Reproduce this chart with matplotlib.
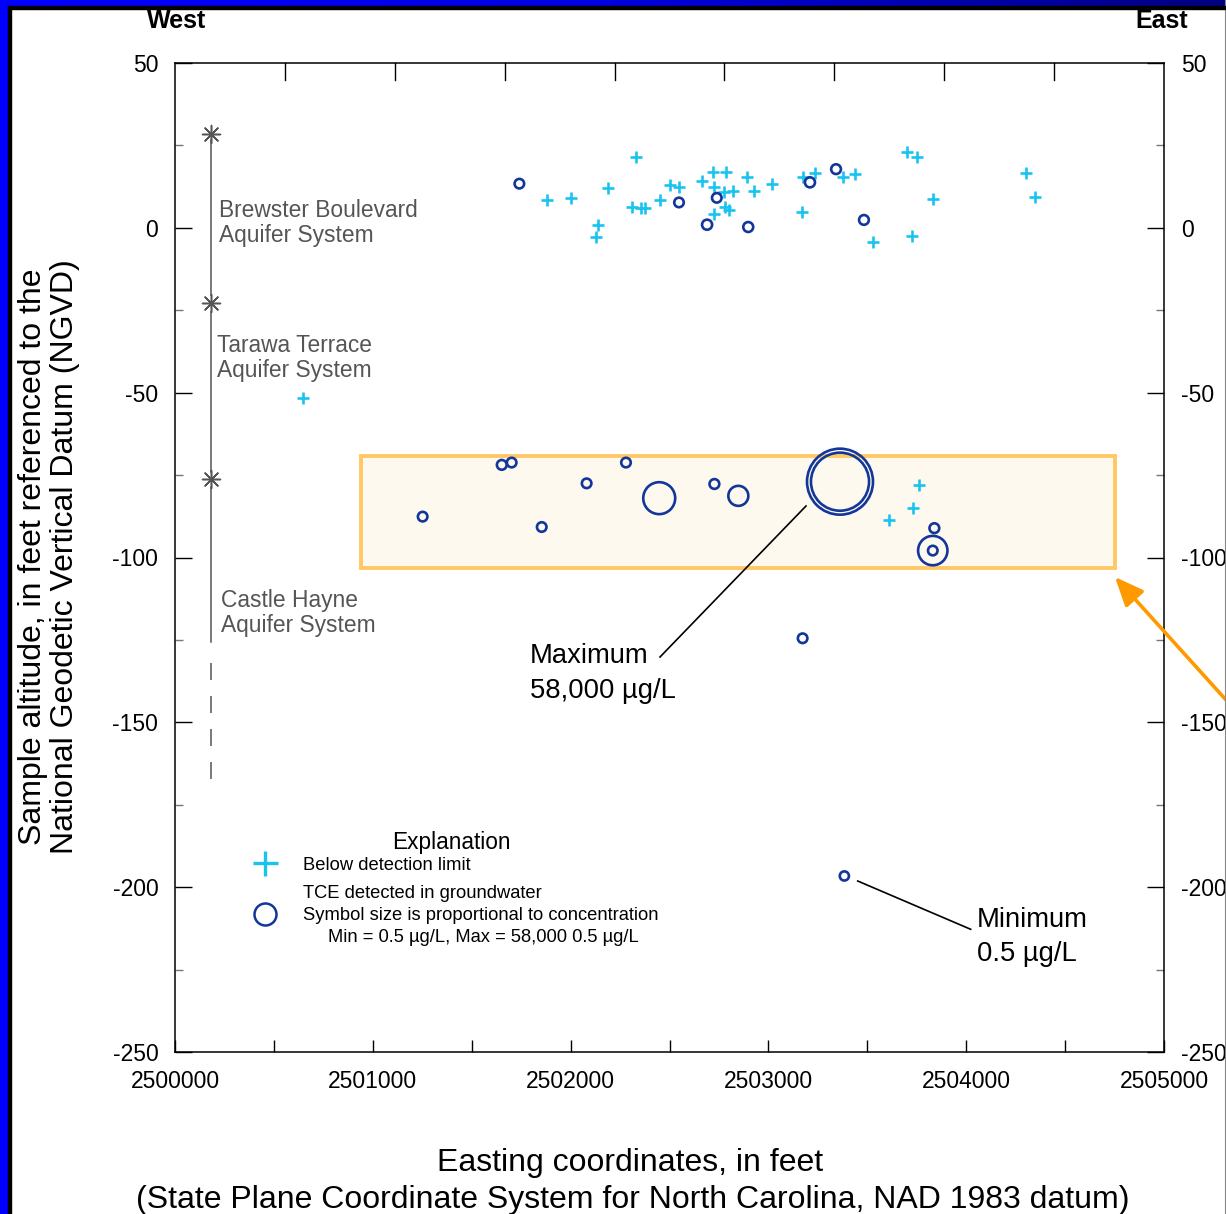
import matplotlib
matplotlib.use('Agg')
import matplotlib.pyplot as plt
import numpy as np
from matplotlib.patches import Rectangle
from matplotlib.lines import Line2D

plt.rcParams['font.family'] = ['Liberation Sans', 'DejaVu Sans']

# ---------------- data ----------------
x_ticks = [2500000, 2501000, 2502000, 2503000, 2504000, 2505000]
x_tick_labels = ['2500000', '2501000', '2502000', '2503000', '2504000', '2505000']
y_ticks = [-250, -200, -150, -100, -50, 0, 50]
y_tick_labels = ['-250', '-200', '-150', '-100', '-50', '0', '50']

# samples below detection limit (easting ft, altitude ft)
below_x = [2501882, 2502004, 2502191, 2502329, 2502137, 2502130, 2502312, 2502354,
           2502376, 2502452, 2502503, 2502548, 2502666, 2502721, 2502784, 2502723,
           2502776, 2502823, 2502890, 2502927, 2502782, 2502802, 2502727, 2503020,
           2503168, 2503176, 2503236, 2503379, 2503438, 2503699, 2503753, 2503834,
           2503530, 2503727, 2504301, 2504348, 2500646, 2503761, 2503731, 2503608]
below_y = [8.4, 9.0, 12.0, 21.4, 0.9, -2.9, 6.4, 5.9,
           6.1, 8.4, 13.0, 12.5, 14.3, 16.8, 16.8, 12.4,
           10.8, 11.2, 15.5, 11.2, 6.4, 5.4, 4.2, 13.3,
           4.9, 15.5, 16.5, 15.5, 16.3, 23.1, 21.4, 8.7,
           -4.2, -2.5, 16.7, 9.3, -51.7, -78.0, -84.9, -88.6]

# TCE detections (easting ft, altitude ft, concentration ug/L, estimated)
det_x = [2501741, 2502548, 2502739, 2502690, 2502898, 2503210, 2503342, 2503483,
         2501252, 2501652, 2501702, 2501854, 2502081, 2502280, 2502448, 2502727,
         2502848, 2503362, 2503362, 2503839, 2503831, 2503831, 2503173, 2503384]
det_y = [13.4, 7.7, 9.1, 0.95, 0.25, 13.8, 17.8, 2.4,
         -87.6, -71.9, -71.2, -90.75, -77.5, -71.2, -82.0, -77.7,
         -81.3, -77.0, -77.0, -91.1, -97.9, -97.9, -124.5, -196.6]
det_conc = [5, 5, 5, 20, 15, 20, 10, 10,
            5, 10, 5, 5, 5, 5, 9400, 10,
            2160, 58000, 43000, 10, 7400, 5, 5, 0.5]

# aquifer-system boundaries (altitude ft) for the column at the left
aquifer_x = 2500182
aquifer_bounds = [28.5, -22.8, -76.2]
aquifer_names = ['Brewster Boulevard\nAquifer System', 'Tarawa Terrace\nAquifer System',
                 'Castle Hayne\nAquifer System']

# highlighted zone (easting / altitude)
zone_x0, zone_x1 = 2500940, 2504752
zone_y0, zone_y1 = -103.2, -69.2

# ---------------- figure ----------------
W, H = 1226, 1214
DPI = 100
PT = 72 / DPI
fig = plt.figure(figsize=(W / DPI, H / DPI), dpi=DPI)
fig.patch.set_facecolor('white')


def fp(x, y):
    return (x / W, 1 - y / H)


ax = fig.add_axes([175 / W, 1 - 1052 / H, (1164 - 175) / W, (1052 - 63) / H])
ax.set_xlim(2500000, 2505000)
ax.set_ylim(-250, 50)

for s in ax.spines.values():
    s.set_linewidth(1.1)
    s.set_color('black')

ax.set_xticks(x_ticks)
ax.set_xticklabels(x_tick_labels)
ax.set_xticks(np.arange(2500500, 2505000, 1000), minor=True)
ax.set_yticks(y_ticks)
ax.set_yticklabels(y_tick_labels)
ax.set_yticks(np.arange(-225, 50, 50), minor=True)

ax.tick_params(axis='x', which='both', direction='in', length=12 * PT, width=1.0,
               labelsize=16.5, pad=13, top=False, bottom=True)
ax.tick_params(axis='y', which='major', direction='in', length=17 * PT, width=1.0,
               labelsize=16.5, pad=12, left=True, right=True, labelleft=True, labelright=True)
ax.tick_params(axis='y', which='minor', direction='in', length=8 * PT, width=1.0,
               color='#777777', left=True, right=True)

# top ticks (9 equal divisions)
for k in range(1, 9):
    ax.plot([k / 9, k / 9], [1, 1 - 17 / 989], transform=ax.transAxes,
            color='black', lw=1.0, clip_on=False)

# highlighted zone
ax.add_patch(Rectangle((zone_x0, zone_y0), zone_x1 - zone_x0, zone_y1 - zone_y0,
                       facecolor='#FEF9EE', edgecolor='#FFC864', lw=2.8, zorder=1))

# aquifer column
gray = '#555555'
ax.scatter([aquifer_x] * 3, aquifer_bounds, marker=(8, 2, 0), s=(18 * PT) ** 2,
           color=gray, linewidths=1.1, zorder=3)
seg = [(26.6, -20.4), (-25.5, -74.1), (-78.6, -125.5)]
for a, b in seg:
    ax.plot([aquifer_x, aquifer_x], [a, b], color=gray, lw=1.1, zorder=2)
ax.plot([aquifer_x, aquifer_x], [-132.0, -167.5], color=gray, lw=1.1,
        dashes=(17 * PT / 1.1, 16 * PT / 1.1), zorder=2)

for (px, py), name in zip([(219, 223), (217, 358), (221, 613)], aquifer_names):
    fig.text(*fp(px, py), name, fontsize=16.4, color=gray, ha='left', va='center',
             linespacing=1.1)

# points
cyan = '#19C3F0'
dblue = '#12369A'
ax.scatter(below_x, below_y, marker='+', s=(12.5 * PT) ** 2, color=cyan, linewidths=1.9, zorder=3)
conc = np.array(det_conc, dtype=float)
r_px = 4.5 + 28.5 * np.sqrt(conc / 58000.0)
ax.scatter(det_x, det_y, s=(2 * r_px * PT) ** 2, facecolors='none', edgecolors=dblue,
           linewidths=1.9, zorder=4)


# annotations
def fline(p1, p2, **kw):
    fig.add_artist(Line2D([p1[0] / W, p2[0] / W], [1 - p1[1] / H, 1 - p2[1] / H],
                          transform=fig.transFigure, **kw))


fline((806, 506), (660, 657), color='black', lw=1.2)
fig.text(*fp(530, 656), 'Maximum', fontsize=19.7, ha='left', va='center')
fig.text(*fp(530, 691), '58,000 µg/L', fontsize=19.7, ha='left', va='center')
fline((857.7, 881), (970.7, 929.3), color='black', lw=1.2)
fig.text(*fp(977, 920), 'Minimum', fontsize=19.7, ha='left', va='center')
fig.text(*fp(977, 954), '0.5 µg/L', fontsize=19.7, ha='left', va='center')

# explanation
fig.text(*fp(451, 843), 'Explanation', fontsize=16.3, ha='center', va='center')
fig.add_artist(Line2D([265 / W], [1 - 863 / H], marker='+', ms=25 * PT, mew=2.4,
                      color=cyan, transform=fig.transFigure))
fig.text(*fp(303, 865), 'Below detection limit', fontsize=13.2, ha='left', va='center')
fig.add_artist(Line2D([265 / W], [1 - 914 / H], marker='o', ms=22 * PT, mew=1.8,
                      mfc='none', mec=dblue, transform=fig.transFigure))
fig.text(*fp(303, 894), 'TCE detected in groundwater', fontsize=13.2, ha='left', va='center')
fig.text(*fp(303, 916), 'Symbol size is proportional to concentration', fontsize=13.2,
         ha='left', va='center')
fig.text(*fp(328, 938), 'Min = 0.5 µg/L, Max = 58,000 0.5 µg/L', fontsize=13.2,
         ha='left', va='center')

# orange arrow
ax.annotate('', xy=fp(1115, 577), xycoords='figure fraction', xytext=fp(1245, 721),
            textcoords='figure fraction',
            arrowprops=dict(arrowstyle='-|>,head_length=0.7,head_width=0.3', color='#FF9900',
                            lw=2.6, mutation_scale=25, shrinkA=0, shrinkB=0),
            annotation_clip=False)

# titles / labels
fig.text(*fp(177, 21), 'West', fontsize=18, fontweight='bold', ha='center', va='center')
fig.text(*fp(1162, 21), 'East', fontsize=18, fontweight='bold', ha='center', va='center')
fig.text(*fp(49, 557), 'Sample altitude, in feet referenced to the\nNational Geodetic Vertical Datum (NGVD)',
         fontsize=23, rotation=90, ha='center', va='center', linespacing=1.12)
fig.text(*fp(630, 1163), 'Easting coordinates, in feet', fontsize=23, ha='center', va='center')
fig.text(*fp(633, 1200), '(State Plane Coordinate System for North Carolina, NAD 1983 datum)',
         fontsize=23, ha='center', va='center')

# frame border (blue band left & top)
fig.add_artist(Rectangle((0, 0), 8 / W, 1, transform=fig.transFigure, color='#0000FF', zorder=10))
fig.add_artist(Rectangle((8 / W, 0), 3 / W, 1 - 6 / H, transform=fig.transFigure, color='black', zorder=10))
grad_ax = fig.add_axes([0, 1 - 6 / H, 1, 6 / H])
grad_ax.imshow(np.linspace(0, 1, 256)[None, :], aspect='auto',
               cmap=matplotlib.colors.LinearSegmentedColormap.from_list('b', ['#0000FF', '#0000E0', '#000080']))
grad_ax.axis('off')
fig.add_artist(Rectangle((8 / W, 1 - 9 / H), 1, 3 / H, transform=fig.transFigure, color='black', zorder=10))
fig.add_artist(Line2D([1224.5 / W, 1224.5 / W], [0, 1], transform=fig.transFigure, color='#888888', lw=0.8))

fig.savefig('out.png', dpi=DPI)
